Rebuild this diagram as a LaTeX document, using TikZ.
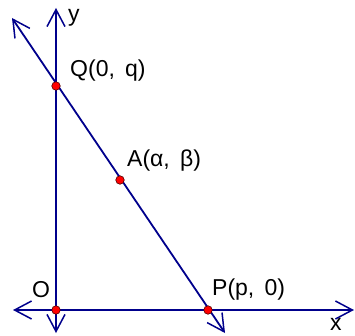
\documentclass[tikz,border=0pt]{standalone}
\usepackage{fontspec}
\setmainfont{Liberation Sans}
\usetikzlibrary{arrows.meta}
\begin{document}
\begin{tikzpicture}[x=1pt,y=1pt,
  axis/.style={draw=navyblue, line width=1.8pt, {Straight Barb[length=17pt,width=18pt,line width=1.5pt]}-{Straight Barb[length=17pt,width=18pt,line width=1.5pt]}},
  pt/.style={circle, fill=red, draw=black!70!red, line width=0.6pt, inner sep=0pt, minimum size=8.5pt},
  lab/.style={font=\fontsize{23}{26}\selectfont, inner sep=0pt, anchor=west}]
\definecolor{navyblue}{RGB}{0,0,140}
\useasboundingbox (0,0) rectangle (355,335);
% axis ends
\coordinate (ytop) at (56,327);
\coordinate (ybot) at (56,2);
\coordinate (xl) at (13,25);
\coordinate (xr) at (354,25);
\coordinate (lt) at (12,317);
\coordinate (lb) at (225,2);
\draw[axis] (ybot) -- (ytop);
\draw[axis] (xl) -- (xr);
\draw[axis] (lb) -- (lt);
\node[pt] (O) at (56,25) {};
\node[pt] (Q) at (56,249) {};
\node[pt] (P) at (208,25) {};
\node[pt] (A) at (120,155) {};
\node[lab] (ylab) at (68,317) {y};
\node[lab] (xlab) at (330,11) {x};
\node[lab] (Olab) at (32,45) {O};
\node[lab] (Qlab) at (70,264) {Q(0,\, q)};
\node[lab] (Alab) at (127,174) {A(α,\, β)};
\node[lab] (Plab) at (212,45) {P(p,\, 0)};
\end{tikzpicture}
\end{document}
